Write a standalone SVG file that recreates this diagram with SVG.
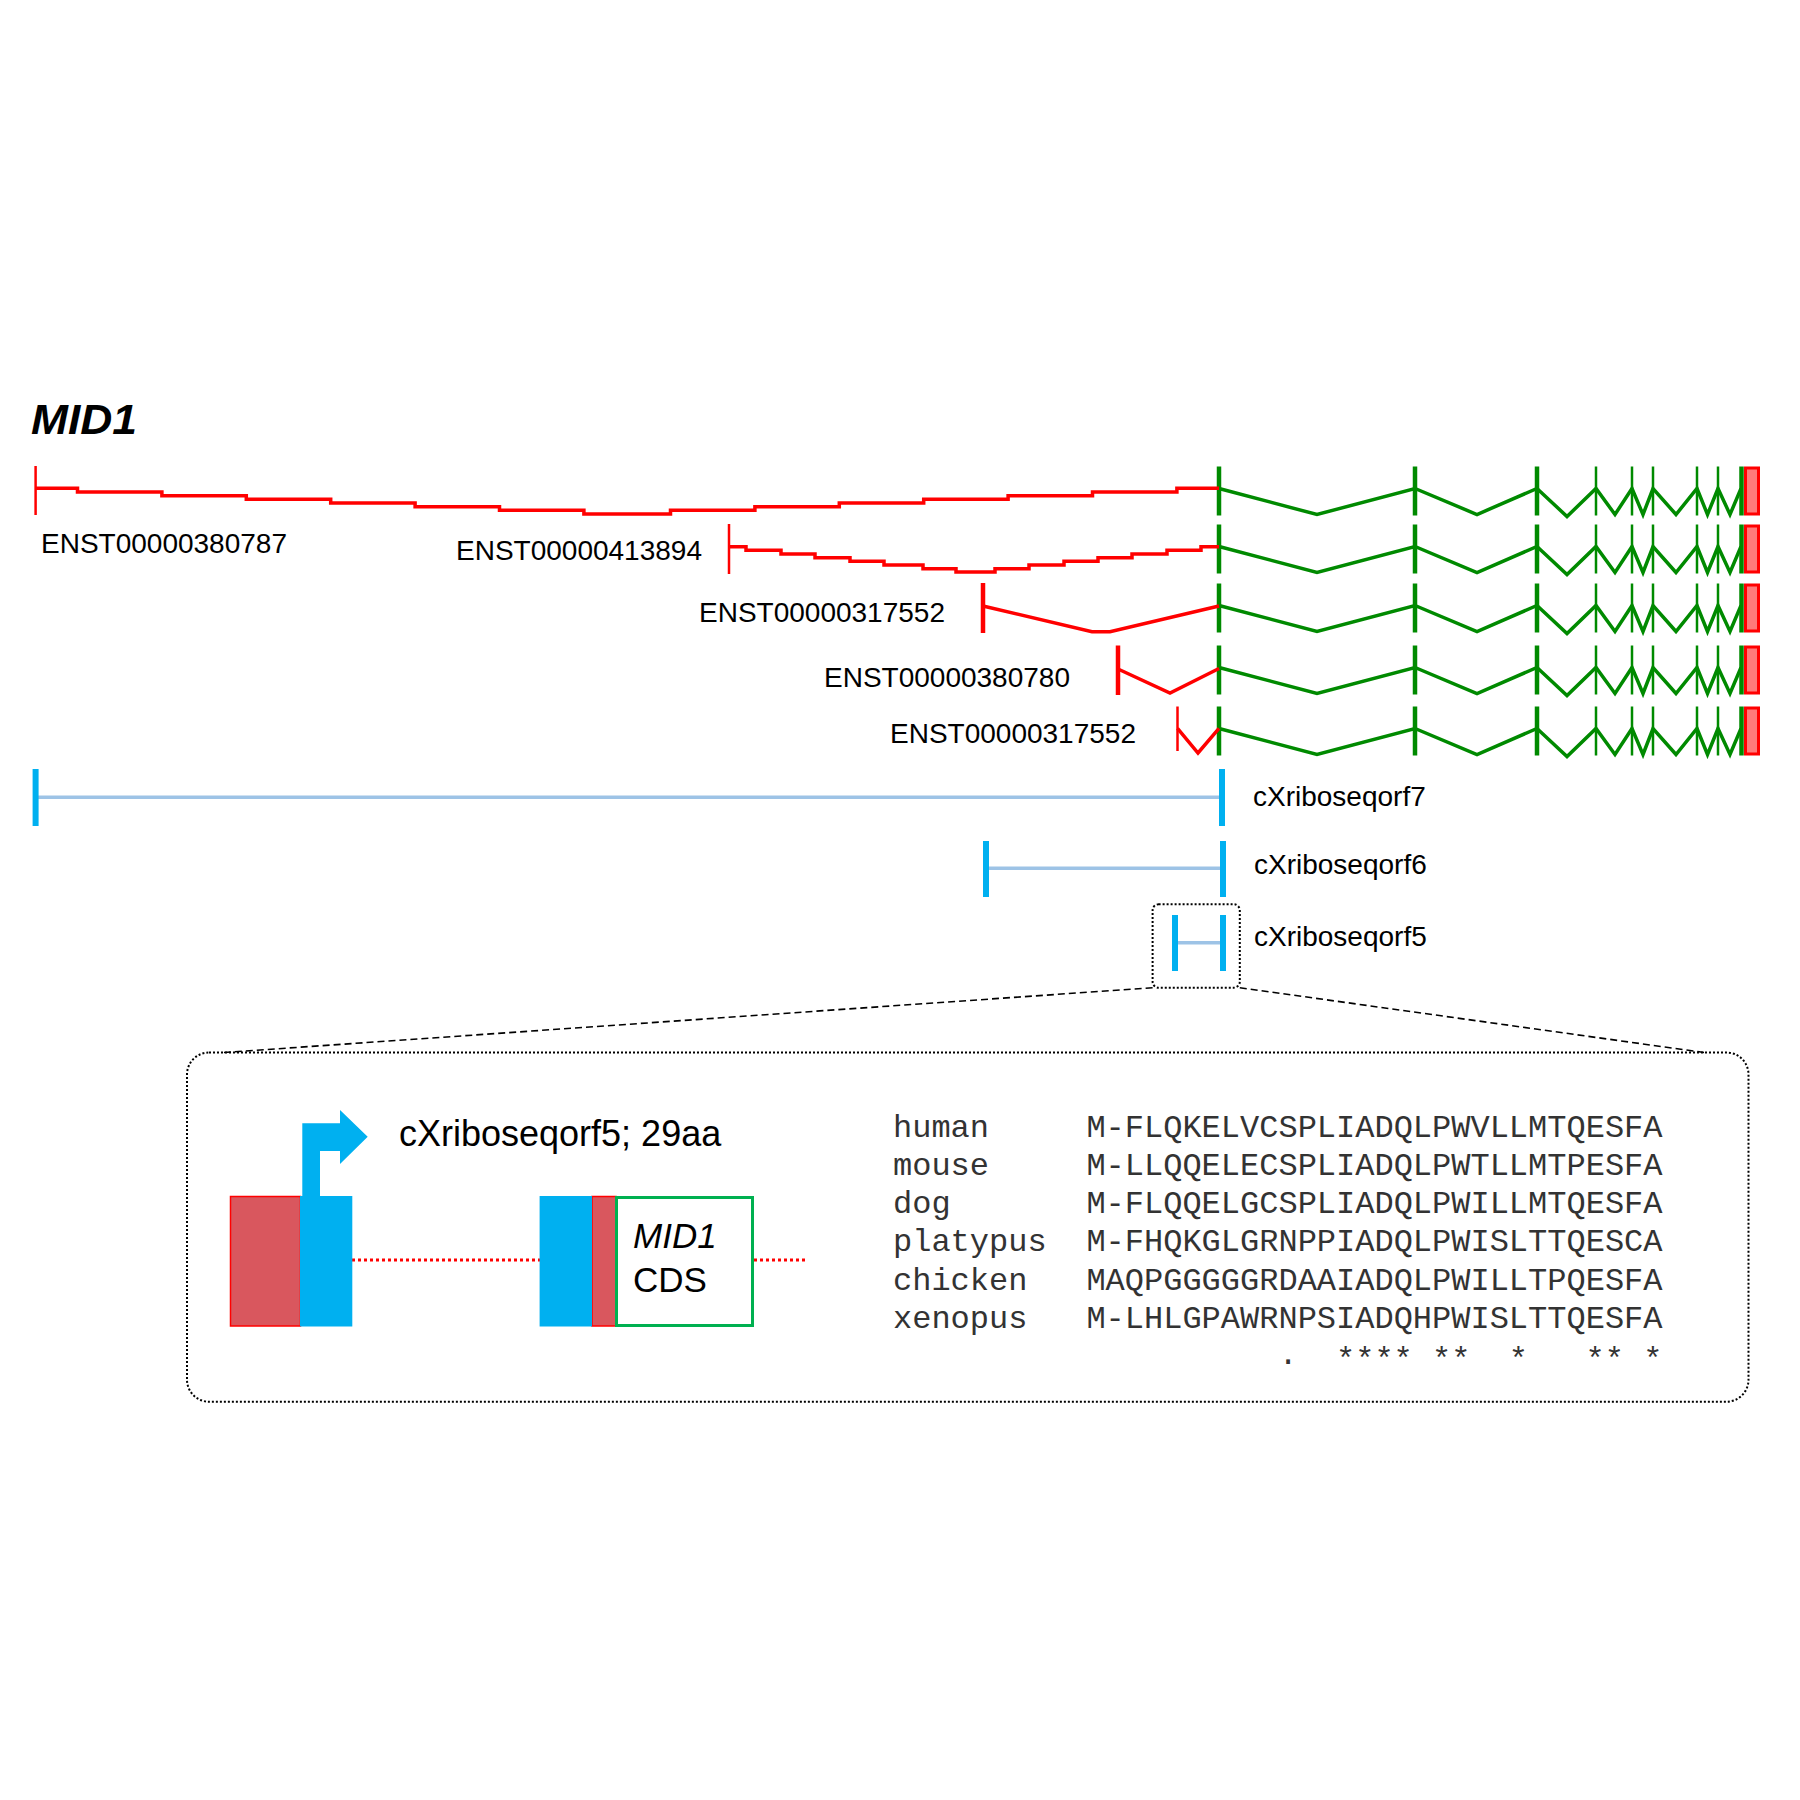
<svg xmlns="http://www.w3.org/2000/svg" xmlns:xlink="http://www.w3.org/1999/xlink" width="1800" height="1800" viewBox="0 0 1800 1800">
<style>
.lbl{font-family:"Liberation Sans",Arial,sans-serif;font-size:28px;fill:#000}
.red{stroke:#ff0000;fill:none;stroke-width:3.5}
.rtick{stroke:#ff0000;fill:none}
.grn{stroke:#008a00;fill:none;stroke-width:3.5;stroke-linejoin:miter}
.gthick{stroke:#008a00;stroke-width:4.5}
.gthin{stroke:#008a00;stroke-width:2.5}
.btick{stroke:#00b0f0;stroke-width:6}
.bline{stroke:#9dc3e6;stroke-width:3.5}
.aln{font-family:"Liberation Mono","Courier New",monospace;font-size:32px;fill:#333}
.dotbox{fill:none;stroke:#000;stroke-width:2;stroke-dasharray:2 2}
.dash{stroke:#000;stroke-width:1.6;stroke-dasharray:7 4;fill:none}
.rdot{stroke:#ff0000;stroke-width:3;stroke-dasharray:3 3}
</style>
<defs>
<g id="greenpart">
<polyline class="grn" points="1219,22 1317,48 1415,22 1477,48 1537,22 1567,50 1596,22 1615,48 1632,22 1643,48 1653,22 1676,48 1697,22 1707.5,48 1718,22 1730,48 1741,22"/>
<line class="gthick" x1="1219" y1="0" x2="1219" y2="49"/>
<line class="gthick" x1="1415" y1="0" x2="1415" y2="49"/>
<line class="gthick" x1="1537" y1="0" x2="1537" y2="49"/>
<line class="gthin" x1="1596" y1="0" x2="1596" y2="49"/>
<line class="gthin" x1="1632" y1="0" x2="1632" y2="49"/>
<line class="gthin" x1="1653" y1="0" x2="1653" y2="49"/>
<line class="gthin" x1="1697" y1="0" x2="1697" y2="49"/>
<line class="gthin" x1="1718" y1="0" x2="1718" y2="49"/>
<line class="gthick" x1="1741.5" y1="0" x2="1741.5" y2="49"/>
<rect x="1745.5" y="1.5" width="13" height="46" fill="#ff7b7b" stroke="#ff0000" stroke-width="3"/>
</g>
</defs>

<text id="title" x="31" y="434" font-family="'Liberation Sans',Arial,sans-serif" font-size="42" font-weight="bold" font-style="italic" textLength="106" lengthAdjust="spacingAndGlyphs">MID1</text>

<g id="ENST00000380787">
<use xlink:href="#greenpart" href="#greenpart" y="466.5"/>
<line class="rtick" stroke-width="2.5" x1="35.6" y1="466" x2="35.6" y2="515"/>
<path class="red" d="M35.6 488.3 H77.5 V492 H161.9 V495.7 H246.3 V499.3 H330.7 V503 H415.1 V506.7 H499.5 V510.3 H583.9 V514 H670.5 V510.3 H754.9 V506.7 H839.3 V503 H923.7 V499.3 H1008.1 V495.7 H1092.5 V492 H1176.9 V488.3 H1219"/>
<text class="lbl" x="41" y="553">ENST00000380787</text>
</g>

<g id="ENST00000413894">
<use xlink:href="#greenpart" href="#greenpart" y="524.5"/>
<line class="rtick" stroke-width="2.5" x1="729" y1="524" x2="729" y2="574"/>
<path class="red" d="M729 546.7 H746 V550.3 H781 V554 H815 V557.7 H850 V561.3 H884 V565 H923 V568.7 H956 V572 H995 V568.7 H1029 V565 H1064 V561.3 H1098 V557.7 H1132 V554 H1167 V550.3 H1201 V546.7 H1219"/>
<text class="lbl" x="456" y="560">ENST00000413894</text>
</g>

<g id="ENST00000317552a">
<use xlink:href="#greenpart" href="#greenpart" y="583.5"/>
<line class="rtick" stroke-width="4.5" x1="983" y1="583" x2="983" y2="633"/>
<polyline class="red" points="983,606 1092,631.7 1110,631.7 1219,606"/>
<text class="lbl" x="699" y="621.5">ENST00000317552</text>
</g>

<g id="ENST00000380780">
<use xlink:href="#greenpart" href="#greenpart" y="645.5"/>
<line class="rtick" stroke-width="4.5" x1="1118" y1="645.5" x2="1118" y2="695"/>
<polyline class="red" points="1118,669 1170,693 1219,668.5"/>
<text class="lbl" x="824" y="687">ENST00000380780</text>
</g>

<g id="ENST00000317552b">
<use xlink:href="#greenpart" href="#greenpart" y="706.5"/>
<line class="rtick" stroke-width="2.5" x1="1177.5" y1="706.5" x2="1177.5" y2="751"/>
<polyline class="red" stroke-width="2.5" points="1177.5,728.3 1198,753 1219,728.3"/>
<text class="lbl" x="890" y="743.3">ENST00000317552</text>
</g>

<g id="cXriboseqorf7">
<line class="bline" x1="38" y1="797.3" x2="1220" y2="797.3"/>
<line class="btick" x1="35.6" y1="769" x2="35.6" y2="826"/>
<line class="btick" x1="1222" y1="769" x2="1222" y2="826"/>
<text class="lbl" x="1253" y="806">cXriboseqorf7</text>
</g>

<g id="cXriboseqorf6">
<line class="bline" x1="988" y1="868.3" x2="1221" y2="868.3"/>
<line class="btick" x1="986" y1="841" x2="986" y2="897"/>
<line class="btick" x1="1223" y1="841" x2="1223" y2="897"/>
<text class="lbl" x="1254" y="874">cXriboseqorf6</text>
</g>

<g id="cXriboseqorf5">
<rect class="dotbox" x="1152.6" y="904.3" width="87.2" height="83.4" rx="6"/>
<line class="bline" x1="1178" y1="942.7" x2="1221" y2="942.7"/>
<line class="btick" x1="1175" y1="915" x2="1175" y2="971"/>
<line class="btick" x1="1223" y1="915" x2="1223" y2="971"/>
<text class="lbl" x="1254" y="946">cXriboseqorf5</text>
</g>

<g id="connectors">
<line class="dash" x1="1152.6" y1="987.7" x2="224" y2="1052.5"/>
<line class="dash" x1="1239.8" y1="987.7" x2="1704" y2="1052.5"/>
</g>

<g id="detail">
<rect class="dotbox" x="187" y="1052.5" width="1561.5" height="349.2" rx="22"/>
<line class="rdot" x1="352" y1="1260" x2="540" y2="1260"/>
<line class="rdot" x1="754" y1="1260" x2="805" y2="1260"/>
<rect x="230.5" y="1196.5" width="70" height="129.5" fill="#d9575e" stroke="#ff0000" stroke-width="1.5"/>
<rect x="300" y="1196" width="52.3" height="130.5" fill="#00b0f0"/>
<polygon points="302.3,1197 302.3,1123.3 340,1123.3 340,1110 367.7,1136.7 340,1164 340,1151 320,1151 320,1197" fill="#00b0f0"/>
<rect x="592" y="1196.5" width="24" height="129.5" fill="#d9575e" stroke="#ff0000" stroke-width="1.5"/>
<rect x="539.6" y="1196" width="52.4" height="130.5" fill="#00b0f0"/>
<rect x="616.5" y="1197.5" width="136" height="128" fill="#fff" stroke="#00b050" stroke-width="3"/>
<text x="633" y="1248" font-family="'Liberation Sans',Arial,sans-serif" font-size="35" font-style="italic">MID1</text>
<text x="633" y="1292" font-family="'Liberation Sans',Arial,sans-serif" font-size="35">CDS</text>
<text x="399" y="1146" font-family="'Liberation Sans',Arial,sans-serif" font-size="36">cXriboseqorf5; 29aa</text>
<g id="alignment">
<text class="aln" x="893" y="1136.5">human</text>
<text class="aln" x="893" y="1174.8">mouse</text>
<text class="aln" x="893" y="1213.1">dog</text>
<text class="aln" x="893" y="1251.4">platypus</text>
<text class="aln" x="893" y="1289.7">chicken</text>
<text class="aln" x="893" y="1328">xenopus</text>
<text class="aln" x="1086.4" y="1136.5">M-FLQKELVCSPLIADQLPWVLLMTQESFA</text>
<text class="aln" x="1086.4" y="1174.8">M-LLQQELECSPLIADQLPWTLLMTPESFA</text>
<text class="aln" x="1086.4" y="1213.1">M-FLQQELGCSPLIADQLPWILLMTQESFA</text>
<text class="aln" x="1086.4" y="1251.4">M-FHQKGLGRNPPIADQLPWISLTTQESCA</text>
<text class="aln" x="1086.4" y="1289.7">MAQPGGGGGRDAAIADQLPWILLTPQESFA</text>
<text class="aln" x="1086.4" y="1328">M-LHLGPAWRNPSIADQHPWISLTTQESFA</text>
<text class="aln" x="1278.4" y="1364.1">.</text>
<text class="aln" x="1336" y="1369">****</text>
<text class="aln" x="1432" y="1369">**</text>
<text class="aln" x="1508.8" y="1369">*</text>
<text class="aln" x="1585.6" y="1369">**</text>
<text class="aln" x="1643.2" y="1369">*</text>
</g>
</g>
</svg>
